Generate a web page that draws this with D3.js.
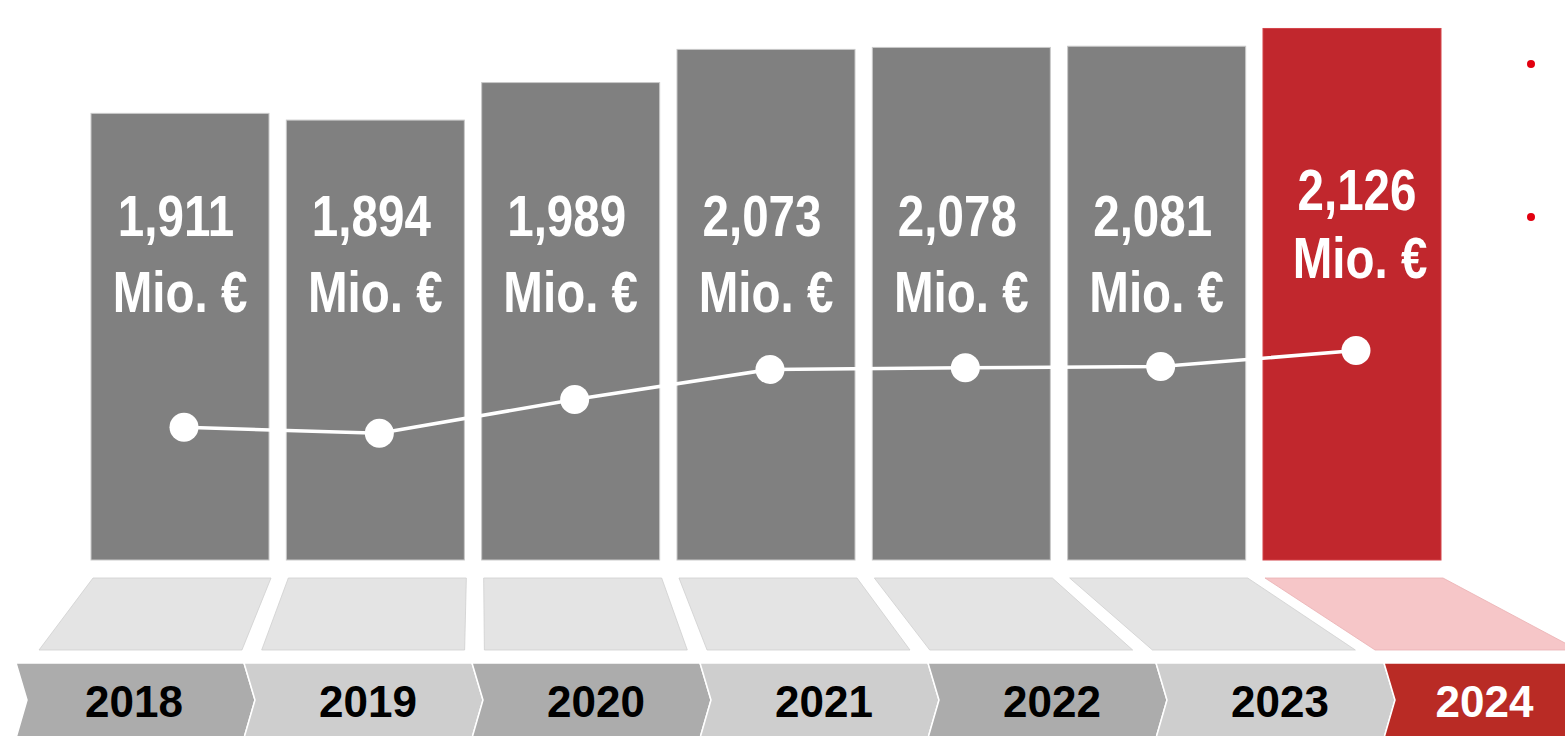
<!DOCTYPE html>
<html>
<head>
<meta charset="utf-8">
<script src="https://cdn.jsdelivr.net/npm/d3@7"></script>
<style>
  html, body { margin: 0; padding: 0; background: #ffffff; }
  svg { display: block; }
</style>
</head>
<body>
<script>
// ---- data ----
const years = ["2018", "2019", "2020", "2021", "2022", "2023", "2024"];
const revenue = [1911, 1894, 1989, 2073, 2078, 2081, 2126];
const unitLabel = "Mio. €";
const highlightYear = "2024";

// ---- setup ----
const W = 1565, H = 736;
const svg = d3.select("body").append("svg").attr("width", W).attr("height", H);
const data = years.map((y, i) => ({ year: y, value: revenue[i], i }));
const fmt = d3.format(",");

const baseY = 560;
const x = d3.scaleBand().domain(years).range([91, 1441]).paddingInner(0.0887).paddingOuter(0);
const bw = x.bandwidth();
const yBar = d3.scaleLinear().domain([780, 2150]).range([baseY, 19]);
const yLine = d3.scaleLinear().domain([1850, 2150]).range([449, 342]);

const isHi = d => d.year === highlightYear;

// ---- perspective floor tiles ----
const tileTop = 578, tileBottom = 650;
const persp = t => -67 + 1.14 * t;
svg.append("g").selectAll("path").data(data).join("path")
  .attr("d", d => {
    const t0 = x(d.year) + 2, t1 = x(d.year) + bw + 2;
    return `M${t0},${tileTop}L${t1},${tileTop}L${persp(t1)},${tileBottom}L${persp(t0)},${tileBottom}Z`;
  })
  .attr("fill", d => isHi(d) ? "#f6c6c8" : "#e4e4e4")
  .attr("stroke", d => isHi(d) ? "#eab0b3" : "#cfcfcf")
  .attr("stroke-width", 0.8);

// ---- chevron year row ----
const xc = d3.scaleBand().domain(years).range([16, 16 + 7 * 228]).padding(0);
const cTop = 663, cMid = 700, cBot = 738, tip = 11;
const chev = svg.append("g");
chev.selectAll("path").data(data).join("path")
  .attr("d", d => {
    const x0 = xc(d.year), x1 = x0 + xc.bandwidth();
    return `M${x0},${cTop}L${x1},${cTop}L${x1 + tip},${cMid}L${x1},${cBot}L${x0},${cBot}L${x0 + tip},${cMid}Z`;
  })
  .attr("fill", d => isHi(d) ? "#b92b25" : (d.i % 2 === 0 ? "#acacac" : "#cecece"))
  .attr("stroke", "#ffffff")
  .attr("stroke-width", 1.5);
chev.selectAll("text").data(data).join("text")
  .attr("x", d => {
    const x0 = xc(d.year), x1 = Math.min(x0 + xc.bandwidth(), W);
    return (x0 + x1) / 2 + (d.i === 0 ? 4 : 10);
  })
  .attr("y", 717)
  .attr("text-anchor", "middle")
  .attr("font-family", "'Liberation Sans', Arial, Helvetica, sans-serif")
  .attr("font-weight", "bold")
  .attr("font-size", 44)
  .attr("fill", d => isHi(d) ? "#ffffff" : "#000000")
  .text(d => d.year);

// ---- bars ----
svg.append("g").selectAll("rect").data(data).join("rect")
  .attr("x", d => x(d.year))
  .attr("y", d => yBar(d.value))
  .attr("width", bw)
  .attr("height", d => baseY - yBar(d.value))
  .attr("fill", d => isHi(d) ? "#c1272d" : "#808080")
  .attr("stroke", d => isHi(d) ? "#d4444a" : "#c9c9c9")
  .attr("stroke-width", 1);

// ---- value labels ----
const lab = svg.append("g")
  .attr("font-family", "'Liberation Sans', Arial, Helvetica, sans-serif")
  .attr("font-weight", "bold")
  .attr("font-size", 58)
  .attr("fill", "#ffffff")
  .attr("text-anchor", "middle");
const lg = lab.selectAll("g").data(data).join("g")
  .attr("transform", d => `translate(${x(d.year) + bw / 2 + (isHi(d) ? 5 : -4)},0)`);
lg.append("text")
  .attr("transform", d => `translate(0,${isHi(d) ? 210 : 236}) scale(0.82,1)`)
  .text(d => fmt(d.value));
lg.append("text")
  .attr("transform", d => `translate(${isHi(d) ? 3 : 4},${isHi(d) ? 278 : 312}) scale(0.82,1)`)
  .text(unitLabel);

// ---- trend line ----
const line = d3.line().x(d => x(d.year) + bw / 2 + 4).y(d => yLine(d.value));
svg.append("path").datum(data)
  .attr("d", line)
  .attr("fill", "none")
  .attr("stroke", "#ffffff")
  .attr("stroke-width", 3.5);
svg.append("g").selectAll("circle").data(data).join("circle")
  .attr("cx", d => x(d.year) + bw / 2 + 4)
  .attr("cy", d => yLine(d.value))
  .attr("r", 14.5)
  .attr("fill", "#ffffff");

// ---- cropped bullet marks at the right edge ----
svg.append("g").selectAll("circle").data([64, 217]).join("circle")
  .attr("cx", 1531).attr("cy", d => d).attr("r", 4)
  .attr("fill", "#e2000f");
</script>
</body>
</html>
